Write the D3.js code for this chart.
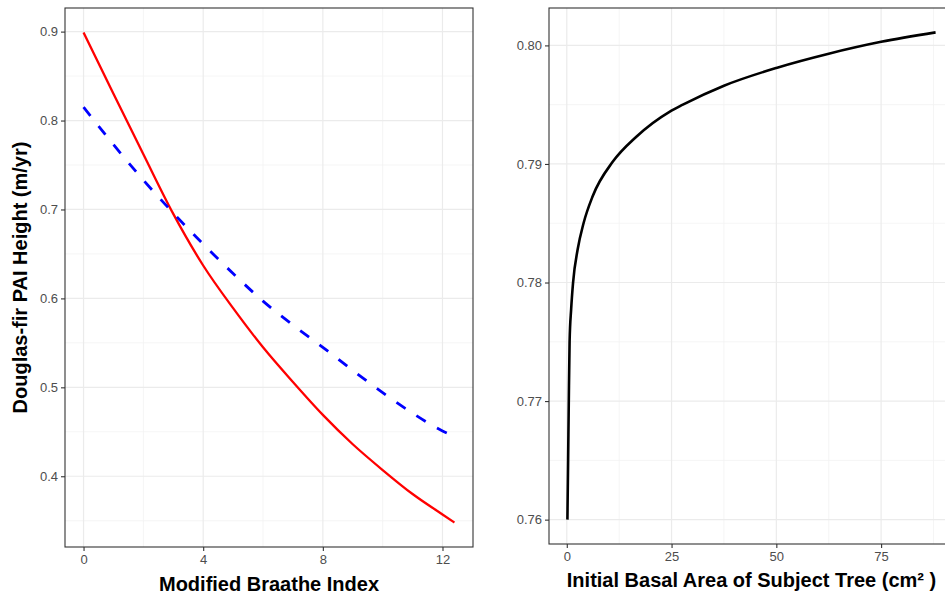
<!DOCTYPE html>
<html>
<head>
<meta charset="utf-8">
<script src="https://cdn.jsdelivr.net/npm/d3@7"></script>
<style>
  body { margin: 0; background: #fff; }
  svg text { font-family: "Liberation Sans", Arial, sans-serif; }
</style>
</head>
<body>
<svg width="945" height="595"></svg>
<script>
// left panel: PAI height vs Modified Braathe Index
var braatheX   = [0, 1, 2, 3, 4, 5, 6, 7, 8, 9, 10, 11, 12, 12.4];
var redHeight  = [0.899, 0.830, 0.762, 0.695, 0.637, 0.589, 0.545, 0.506, 0.469, 0.436, 0.407, 0.380, 0.357, 0.348];
var blueHeight = [0.815, 0.773, 0.733, 0.696, 0.661, 0.628, 0.597, 0.570, 0.545, 0.519, 0.494, 0.471, 0.451, 0.445];
var braatheTicks = [0, 4, 8, 12];
var braatheMinor = [2, 6, 10];
var leftYTicks = [0.4, 0.5, 0.6, 0.7, 0.8, 0.9];
var leftYMinor = [0.35, 0.45, 0.55, 0.65, 0.75, 0.85];

// right panel: PAI height vs initial basal area
var basalX      = [0.15, 0.32, 0.48, 0.67, 1.05, 1.5, 2.6, 4.0, 6.2, 11, 16.6, 24.5, 27.7, 37.5, 50, 62.5, 75, 88];
var basalHeight = [0.760, 0.765, 0.770, 0.775, 0.7778, 0.780, 0.7828, 0.785, 0.7873, 0.7902, 0.7923, 0.7944, 0.7950, 0.7966, 0.7981, 0.7993, 0.8003, 0.8011];
var basalTicks = [0, 25, 50, 75];
var basalMinor = [12.5, 37.5, 62.5, 87.5];
var rightYTicks = [0.76, 0.77, 0.78, 0.79, 0.80];
var rightYMinor = [0.765, 0.775, 0.785, 0.795];

var svg = d3.select("svg");

function expand(ext) {
	var pad = (ext[1] - ext[0]) * 0.05;
	return [ext[0] - pad, ext[1] + pad];
}

function drawPanel(p) {
	var x = d3.scaleLinear().domain(expand(p.xExtent)).range([p.left, p.right]);
	var y = d3.scaleLinear().domain(expand(p.yExtent)).range([p.bottom, p.top]);
	var g = svg.append("g");

	// grid
	g.selectAll(".vminor").data(p.xMinor.filter(function(d) { return x(d) < p.right; }))
	  .enter().append("line")
	    .attr("x1", function(d) { return x(d); }).attr("x2", function(d) { return x(d); })
	    .attr("y1", p.top).attr("y2", p.bottom)
	    .attr("stroke", "#f2f2f2").attr("stroke-width", 0.8);
	g.selectAll(".hminor").data(p.yMinor)
	  .enter().append("line")
	    .attr("x1", p.left).attr("x2", p.right)
	    .attr("y1", function(d) { return y(d); }).attr("y2", function(d) { return y(d); })
	    .attr("stroke", "#f2f2f2").attr("stroke-width", 0.8);
	g.selectAll(".vmajor").data(p.xTicks)
	  .enter().append("line")
	    .attr("x1", function(d) { return x(d); }).attr("x2", function(d) { return x(d); })
	    .attr("y1", p.top).attr("y2", p.bottom)
	    .attr("stroke", "#ebebeb").attr("stroke-width", 1.2);
	g.selectAll(".hmajor").data(p.yTicks)
	  .enter().append("line")
	    .attr("x1", p.left).attr("x2", p.right)
	    .attr("y1", function(d) { return y(d); }).attr("y2", function(d) { return y(d); })
	    .attr("stroke", "#ebebeb").attr("stroke-width", 1.2);

	// lines
	p.series.forEach(function(s) {
		var line = d3.line()
		    .x(function(d, i) { return x(p.xs[i]); })
		    .y(function(d) { return y(d); })
		    .curve(d3.curveMonotoneX);
		g.append("path")
		    .datum(s.values)
		    .attr("fill", "none")
		    .attr("stroke", s.color)
		    .attr("stroke-width", s.width)
		    .attr("stroke-dasharray", s.dash || null)
		    .attr("d", line);
	});

	// border
	g.append("rect")
	    .attr("x", p.left).attr("y", p.top)
	    .attr("width", p.right - p.left).attr("height", p.bottom - p.top)
	    .attr("fill", "none").attr("stroke", "#333").attr("stroke-width", 1.1);

	// axes
	var ax = g.append("g")
	    .attr("transform", "translate(0," + p.bottom + ")")
	    .call(d3.axisBottom(x).tickValues(p.xTicks).tickSize(4).tickPadding(4).tickFormat(d3.format("d")));
	var ay = g.append("g")
	    .attr("transform", "translate(" + p.left + ",0)")
	    .call(d3.axisLeft(y).tickValues(p.yTicks).tickSize(4).tickPadding(3).tickFormat(d3.format(p.yFormat)));
	[ax, ay].forEach(function(a) {
		a.select(".domain").remove();
		a.selectAll(".tick line").attr("stroke", "#333").attr("stroke-width", 1.1);
		a.selectAll(".tick text").attr("fill", "#4d4d4d").style("font-size", "13px");
	});

	// titles
	g.append("text")
	    .attr("x", (p.left + p.right) / 2)
	    .attr("y", p.xTitleY)
	    .attr("text-anchor", "middle")
	    .style("font-size", "20px")
	    .style("font-weight", "bold")
	    .attr("fill", "#000")
	    .text(p.xTitle);
	if (p.yTitle) {
		g.append("text")
		    .attr("transform", "translate(27," + ((p.top + p.bottom) / 2) + ") rotate(-90)")
		    .attr("text-anchor", "middle")
		    .style("font-size", "20px")
		    .style("font-weight", "bold")
		    .attr("fill", "#000")
		    .text(p.yTitle);
	}
}

drawPanel({
	left: 65, right: 473, top: 8, bottom: 547,
	xExtent: [0, 12.4],
	yExtent: [d3.min(redHeight.concat(blueHeight)), d3.max(redHeight.concat(blueHeight))],
	xs: braatheX,
	xTicks: braatheTicks, xMinor: braatheMinor,
	yTicks: leftYTicks, yMinor: leftYMinor, yFormat: ".1f",
	series: [
		{values: redHeight, color: "#ff0000", width: 2.3},
		{values: blueHeight, color: "#0000ff", width: 2.8, dash: "11,13"}
	],
	xTitle: "Modified Braathe Index", xTitleY: 591,
	yTitle: "Douglas-fir PAI Height (m/yr)"
});

drawPanel({
	left: 549, right: 954, top: 8, bottom: 544,
	xExtent: d3.extent(basalX),
	yExtent: d3.extent(basalHeight),
	xs: basalX,
	xTicks: basalTicks, xMinor: basalMinor,
	yTicks: rightYTicks, yMinor: rightYMinor, yFormat: ".2f",
	series: [
		{values: basalHeight, color: "#000", width: 2.6}
	],
	xTitle: "Initial Basal Area of Subject Tree (cm\u00b2 )", xTitleY: 587
});
</script>
</body>
</html>
